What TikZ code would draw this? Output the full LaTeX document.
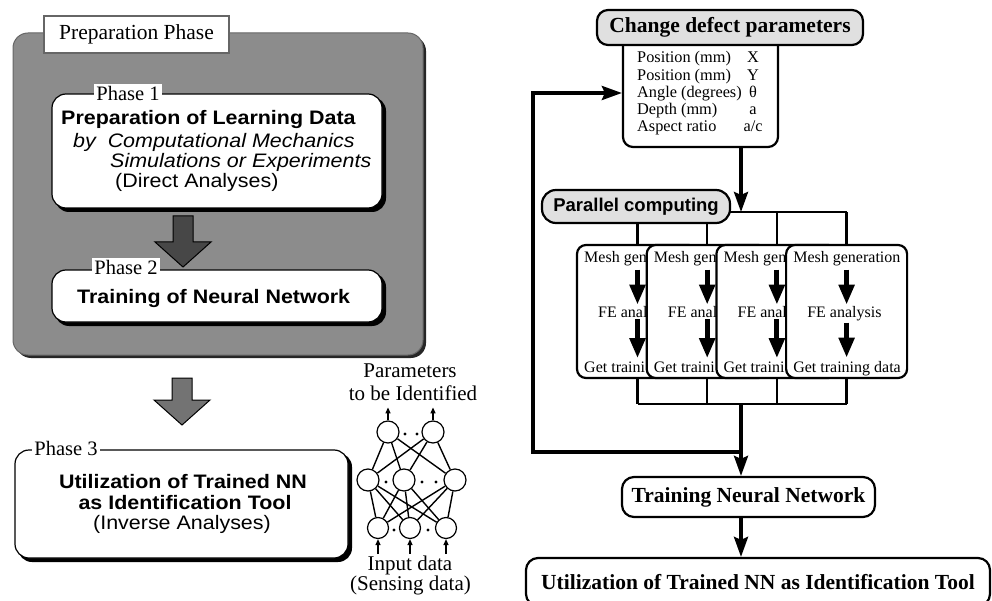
\documentclass[tikz,border=0pt]{standalone}
\usepackage{fontspec}
\setmainfont{Liberation Serif}
\newfontfamily\hsans[FakeStretch=1.1]{Liberation Sans}
\newfontfamily\plainsans{Liberation Sans}
\usetikzlibrary{arrows.meta,calc}
\newcommand\bigdownarrow[3]{%
  \filldraw[fill=#3, draw=black, line width=1pt]
    ($(#1)+(-10,0)$) -- ($(#1)+(10,0)$) -- ($(#2)+(10,-25)$) -- ($(#2)+(28,-25)$)
    -- (#2) -- ($(#2)+(-28,-25)$) -- ($(#2)+(-10,-25)$) -- cycle;}
\tikzset{
  phasebox/.style={draw=black, line width=1.2pt, fill=white, rounded corners=14pt, inner sep=0pt},
  phaselbl/.style={font=\fontsize{20.5}{24}\selectfont, fill=white, inner sep=2pt},
  hbold/.style={font=\hsans\bfseries\fontsize{19.5}{22}\selectfont, inner sep=0pt},
  hital/.style={font=\hsans\itshape\fontsize{19.5}{22}\selectfont, inner sep=0pt},
  hreg/.style={font=\hsans\fontsize{19.5}{22}\selectfont, inner sep=0pt},
  nnlbl/.style={font=\fontsize{21}{24}\selectfont, inner sep=0pt, anchor=base},
  neuron/.style={circle, draw=black, line width=1.2pt, fill=white, inner sep=0pt, minimum size=22pt},
  nnline/.style={line width=1.4pt},
  nnarrow/.style={line width=1.2pt, -{Triangle[length=6pt,width=5pt]}},
  sbold/.style={font=\bfseries\fontsize{21.5}{24}\selectfont},
  rbox/.style={draw=black, line width=2.2pt, rounded corners=11pt, inner sep=0pt},
  ptext/.style={font=\fontsize{16.3}{18}\selectfont, inner sep=0pt},
  cbox/.style={draw=black, line width=2.2pt, fill=white, rounded corners=9pt, inner sep=0pt,
               minimum width=121pt, minimum height=133pt},
  ctext/.style={font=\fontsize{16}{18}\selectfont, inner sep=1pt, anchor=base west},
  fea/.style={line width=5pt, -{Triangle[length=20pt,width=15pt]}},
  bus/.style={line width=2.5pt},
  flow/.style={line width=3.5pt, -{Stealth[length=20pt,width=14pt,inset=3pt]}},
}
\begin{document}
\begin{tikzpicture}[x=1pt,y=-1pt,line join=miter]
\useasboundingbox (0,0) rectangle (992,601);

% ---------------- Left: preparation phase panel ----------------
\fill[black!85, rounded corners=15pt] (16,36) rectangle (426,358);
\filldraw[fill=black!45, draw=black!60, line width=1pt, rounded corners=15pt] (13,33) rectangle (423,355);
\node[draw=black!60, line width=1.5pt, fill=white, minimum width=185pt, minimum height=37pt,
      inner sep=0pt, font=\fontsize{21.5}{24}\selectfont] (prep) at (136.5,34.5) {Preparation Phase};

% Phase 1
\fill[black, rounded corners=14pt] (55,97) rectangle (386,212);
\node[phasebox, minimum width=330pt, minimum height=114pt] (p1) at (217,151) {};
\node[phaselbl] (p1l) at (128,93) {Phase 1};
\node[hbold, anchor=base west] (p1t1) at (61,125) {Preparation of Learning Data};
\node[hital, anchor=base west] (p1t2) at (73,148) {by\ \ Computational Mechanics};
\node[hital, anchor=base west] (p1t3) at (110,168) {Simulations or Experiments};
\node[hreg, anchor=base west] (p1t4) at (115,188) {(Direct Analyses)};

% Arrow 1 -> 2
\coordinate (a1top) at (183,216);
\coordinate (a1tip) at (183,267);
\bigdownarrow{a1top}{a1tip}{black!72}

% Phase 2
\fill[black, rounded corners=14pt] (55,273) rectangle (386,326);
\node[phasebox, minimum width=330pt, minimum height=52pt] (p2) at (217,296) {};
\node[phaselbl] (p2l) at (126,267) {Phase 2};
\node[hbold, anchor=base west] (p2t1) at (77,303) {Training of Neural Network};

% Arrow 2 -> 3
\coordinate (a2top) at (182,378);
\coordinate (a2tip) at (182,425);
\bigdownarrow{a2top}{a2tip}{black!55}

% Phase 3
\fill[black, rounded corners=14pt] (18,453) rectangle (352,562);
\node[phasebox, minimum width=333pt, minimum height=108pt] (p3) at (181.5,504) {};
\node[phaselbl] (p3l) at (66,448) {Phase 3};
\node[hbold, anchor=base] (p3t1) at (183,488) {Utilization of Trained NN};
\node[hbold, anchor=base] (p3t2) at (185,509) {as Identification Tool};
\node[hreg, anchor=base] (p3t3) at (182,529) {(Inverse Analyses)};

% ---------------- Neural network sketch ----------------
\node[nnlbl] (nnp1) at (410,377) {Parameters};
\node[nnlbl] (nnp2) at (413,400) {to be Identified};
\node[neuron] (t1) at (388,432) {};
\node[neuron] (t2) at (433,432) {};
\node[neuron] (m1) at (368,480) {};
\node[neuron] (m2) at (404,480) {};
\node[neuron] (m3) at (455,480) {};
\node[neuron, minimum size=21pt] (b1) at (378,528) {};
\node[neuron, minimum size=21pt] (b2) at (410,528) {};
\node[neuron, minimum size=21pt] (b3) at (446,528) {};
\foreach \u in {t1,t2} \foreach \v in {m1,m2,m3} \draw[nnline] (\u) -- (\v);
\foreach \u in {m1,m2,m3} \foreach \v in {b1,b2,b3} \draw[nnline] (\u) -- (\v);
\foreach \u in {t1,t2} \draw[nnarrow] (\u.north) -- ++(0,-13);
\foreach \u in {b1,b2,b3} \draw[nnarrow] ($(\u.south)+(0,15)$) -- (\u.south);
\foreach \p in {(405,434),(417,434),(386,482),(422,482),(436,482),(394,530),(428,530)}
  \fill \p circle (1.6);
\node[nnlbl] (nni1) at (410,570) {Input data};
\node[nnlbl] (nni2) at (410.5,590) {(Sensing data)};

% ---------------- Right: flow chart ----------------
\node[rbox, fill=white, minimum width=155pt, minimum height=117pt, rounded corners=10pt] (params) at (700.5,88.5) {};
\node[rbox, fill=black!12, minimum width=266pt, minimum height=35pt, sbold] (change) at (730,27.5) {Change defect parameters};
\foreach \k/\lab/\val/\y in {1/Position (mm)/X/63, 2/Position (mm)/Y/81, 3/Angle (degrees)/θ/98, 4/Depth (mm)/a/115, 5/Aspect ratio/a\slash c/132} {
  \node[ptext, anchor=base west] (pl\k) at (637,\y) {\lab};
  \node[ptext, anchor=base] (pv\k) at (753,\y) {\val};
}

\coordinate (busTop) at (741,212);
\coordinate (busBot) at (741,404);
\coordinate (fb1) at (741,452);
\coordinate (fb2) at (533,93);

\foreach \i/\l/\mt/\ft/\gt in {1/577/Mesh gen/FE anal/Get traini,
                               2/646.7/Mesh gen/FE anal/Get traini,
                               3/716.4/Mesh gen/FE anal/Get traini,
                               4/786.1/Mesh generation/FE analysis/Get training data} {
  \node[cbox] (box\i) at ({\l+60.5},311.5) {};
  \begin{scope}
    \clip[rounded corners=9pt] ({\l-1},244) rectangle ({\l+122},379);
    \node[ctext] (m\i) at ({\l+6},263) {\mt};
    \node[ctext] (f\i) at ({\l+20},317) {\ft};
    \node[ctext] (g\i) at ({\l+6},372) {\gt};
  \end{scope}
  \draw[fea, shorten <=2pt] (m\i.south -| box\i.center) -- (f\i.north -| box\i.center);
  \draw[fea, shorten <=1pt, shorten >=2pt] (f\i.south -| box\i.center) -- (g\i.north -| box\i.center);
}
\foreach \i in {1,2,3,4} {
  \draw[bus] (box\i.north) -- (box\i.north |- busTop);
  \draw[bus] (box\i.south) -- (box\i.south |- busBot);
}
\draw[bus] (box1.north |- busTop) -- (box4.north |- busTop);
\draw[bus] (box1.south |- busBot) -- (box4.south |- busBot);

\node[rbox, fill=black!12, minimum width=188pt, minimum height=33pt, rounded corners=14pt,
      font=\plainsans\bfseries\fontsize{18.5}{20}\selectfont] (par) at (636,206.5) {Parallel computing};

\draw[flow] (params.south -| busTop) -- (busTop);

\node[rbox, fill=white, minimum width=253pt, minimum height=40pt, rounded corners=12pt, sbold] (train) at (748.5,497) {Training Neural Network};
\node[rbox, fill=white, minimum width=464pt, minimum height=48pt, rounded corners=12pt, sbold] (util) at (758,582) {Utilization of Trained NN as Identification Tool};

\draw[line width=3.5pt] (busBot) -- (fb1);
\draw[flow] (fb1) -- (busBot |- train.north);
\draw[flow] (fb1) -| (fb2) -- (fb2 -| params.west);
\draw[flow] (train.south -| busBot) -- (util.north -| busBot);
\end{tikzpicture}
\end{document}
